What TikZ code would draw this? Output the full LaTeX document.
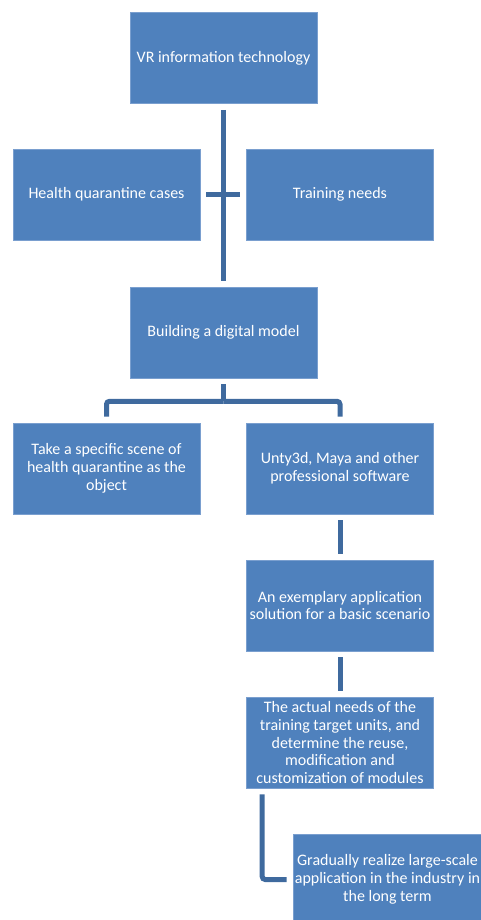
\documentclass[tikz,border=0pt]{standalone}
\usepackage{fontspec}
\setmainfont{Carlito}
\definecolor{boxblue}{HTML}{4F81BD}
\definecolor{boxedge}{HTML}{7A9FCF}
\definecolor{linkblue}{HTML}{3F6A9E}
\begin{document}
\begin{tikzpicture}[x=1pt,y=-1pt,
  blk/.style={rectangle,fill=boxblue,draw=boxedge,line width=0.6pt,
    minimum width=187pt,minimum height=91pt,inner sep=2pt,
    text=white,align=center,font=\fontsize{16}{17.8}\selectfont},
  link/.style={draw=linkblue,line width=5pt,shorten <=6pt,shorten >=6pt}]
\useasboundingbox (0,0) rectangle (480,920);
\node[blk] (vr)  at (223.5,58)  {VR information technology};
\node[blk] (hq)  at (106.5,194.5) {Health quarantine cases};
\node[blk] (tn)  at (340,194.5) {Training needs};
\node[blk] (bld) at (223.5,332.5) {Building a digital model};
\node[blk] (tk)  at (106.5,468.5) {Take a specific scene of\\health quarantine as the\\object};
\node[blk] (un)  at (340,468.5) {Unty3d, Maya and other\\professional software};
\node[blk] (ex)  at (340,605.5) {An exemplary application\\solution for a basic scenario};
\node[blk] (ac)  at (340,742.5) {The actual needs of the\\training target units, and\\determine the reuse,\\modification and\\customization of modules};
\node[blk] (gr)  at (387.5,879.5) {Gradually realize large-scale\\application in the industry in\\the long term};
\coordinate (br) at ([yshift=-23pt]bld.south);
\draw[link] (vr.south) -- (bld.north);
\draw[link] (hq.east) -- (tn.west);
\draw[link,shorten >=0pt] (bld.south) -- (br);
\draw[link,shorten <=0pt,rounded corners=3pt] (br) -| (tk.north);
\draw[link,shorten <=0pt,rounded corners=3pt] (br) -| (un.north);
\draw[link] (un.south) -- (ex.north);
\draw[link] (ex.south) -- (ac.north);
\draw[link,rounded corners=3pt] ([xshift=16pt]ac.south west) |- (gr.west);
\end{tikzpicture}
\end{document}
